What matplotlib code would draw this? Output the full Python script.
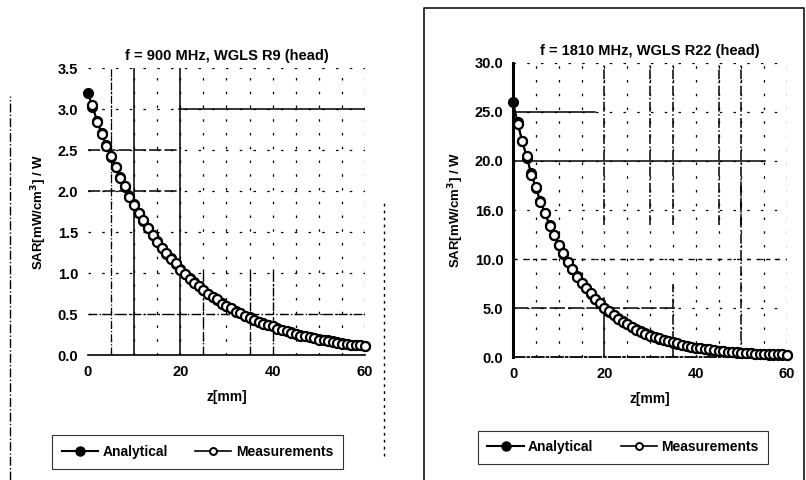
import matplotlib
matplotlib.use("Agg")
import matplotlib.pyplot as plt
from matplotlib.lines import Line2D

plt.rcParams['font.family'] = ['Liberation Sans', 'DejaVu Sans']
plt.rcParams['font.weight'] = 'bold'

# ---------------- data ----------------
z_ana = list(range(0, 61))
z_meas = list(range(1, 61))

sar900_ana = [3.20, 3.03, 2.86, 2.71, 2.56, 2.42, 2.29, 2.17, 2.05, 1.94,
              1.84, 1.74, 1.64, 1.55, 1.47, 1.39, 1.31, 1.24, 1.18, 1.11,
              1.05, 0.99, 0.94, 0.89, 0.84, 0.80, 0.75, 0.71, 0.67, 0.64,
              0.60, 0.57, 0.54, 0.51, 0.48, 0.46, 0.43, 0.41, 0.39, 0.37,
              0.35, 0.33, 0.31, 0.29, 0.28, 0.26, 0.25, 0.23, 0.22, 0.21,
              0.20, 0.19, 0.18, 0.17, 0.16, 0.15, 0.14, 0.13, 0.13, 0.12,
              0.11]
sar900_meas = [3.05, 2.84, 2.70, 2.55, 2.43, 2.30, 2.16, 2.06, 1.93,
               1.83, 1.73, 1.65, 1.55, 1.46, 1.38, 1.31, 1.25, 1.17, 1.12,
               1.04, 0.99, 0.93, 0.88, 0.84, 0.79, 0.75, 0.71, 0.68, 0.63,
               0.60, 0.57, 0.53, 0.51, 0.48, 0.45, 0.43, 0.41, 0.38, 0.37,
               0.35, 0.32, 0.31, 0.29, 0.27, 0.26, 0.24, 0.23, 0.22, 0.21,
               0.19, 0.18, 0.17, 0.16, 0.15, 0.14, 0.14, 0.13, 0.12, 0.12,
               0.11]

sar1810_ana = [26.0, 23.95, 22.07, 20.33, 18.73, 17.26, 15.90, 14.65, 13.50, 12.43,
               11.46, 10.55, 9.72, 8.96, 8.25, 7.60, 7.01, 6.45, 5.95, 5.48,
               5.05, 4.65, 4.28, 3.95, 3.64, 3.35, 3.09, 2.84, 2.62, 2.41,
               2.22, 2.05, 1.89, 1.74, 1.60, 1.48, 1.36, 1.25, 1.15, 1.06,
               0.98, 0.90, 0.83, 0.77, 0.71, 0.65, 0.60, 0.55, 0.51, 0.47,
               0.43, 0.40, 0.37, 0.34, 0.31, 0.29, 0.26, 0.24, 0.22, 0.21,
               0.19]
sar1810_meas = [23.8, 22.0, 20.5, 18.6, 17.3, 15.8, 14.7, 13.4, 12.5,
                11.4, 10.6, 9.7, 9.0, 8.2, 7.6, 7.0, 6.5, 5.9, 5.5,
                5.0, 4.7, 4.3, 3.9, 3.6, 3.4, 3.1, 2.8, 2.6, 2.4,
                2.2, 2.1, 1.9, 1.7, 1.6, 1.5, 1.4, 1.25, 1.15, 1.06,
                0.98, 0.91, 0.84, 0.78, 0.72, 0.66, 0.61, 0.56, 0.52, 0.48,
                0.45, 0.42, 0.39, 0.36, 0.34, 0.32, 0.30, 0.29, 0.28, 0.27,
                0.26]

titles = ["f = 900 MHz, WGLS R9 (head)", "f = 1810 MHz, WGLS R22 (head)"]
ylims = [(0, 3.5), (0, 30)]
yticks = [[0.0, 0.5, 1.0, 1.5, 2.0, 2.5, 3.0, 3.5],
          [0.0, 5.0, 10.0, 15.0, 20.0, 25.0, 30.0]]
ytick_labels = [["0.0", "0.5", "1.0", "1.5", "2.0", "2.5", "3.0", "3.5"],
                ["0.0", "5.0", "10.0", "16.0", "20.0", "25.0", "30.0"]]
xticks = [0, 20, 40, 60]
ylabel = "SAR[mW/cm$^3$] / W"
xlabel = "z[mm]"
legend_labels = ["Analytical", "Measurements"]

# ---------------- figure ----------------
fig = plt.figure(figsize=(8.06, 4.80), dpi=100)
fig.patch.set_facecolor('white')

ax1 = fig.add_axes([0.109, 0.260, 0.344, 0.598])
ax2 = fig.add_axes([0.6365, 0.256, 0.340, 0.613])

series = [(ax1, sar900_ana, sar900_meas), (ax2, sar1810_ana, sar1810_meas)]

for i, (ax, ana, meas) in enumerate(series):
    ax.set_xlim(0, 60)
    ax.set_ylim(*ylims[i])
    for yv in yticks[i][1:]:
        ax.axhline(yv, color='black', lw=0.9, ls=(0, (2, 9)), zorder=0)
    for xv in range(5, 61, 5):
        ax.axvline(xv, color='black', lw=0.9, ls=(0, (2, 9)), zorder=0)
    ax.plot(z_ana, ana, color='black', lw=1.5, marker='o', ms=7,
            mfc='black', mec='black', zorder=3, clip_on=False)
    ax.plot(z_meas, meas, color='black', lw=1.2, marker='o', ms=6.5,
            mfc='white', mec='black', mew=1.6, zorder=4, clip_on=False)
    ax.set_title(titles[i], fontsize=10.5, fontweight='bold', pad=6)
    ax.set_xticks(xticks)
    ax.set_yticks(yticks[i])
    ax.set_yticklabels(ytick_labels[i])
    ax.tick_params(labelsize=10.5, length=0, pad=7)
    for lab in ax.get_xticklabels() + ax.get_yticklabels():
        lab.set_fontweight('bold')
    ax.set_xlabel(xlabel, fontsize=10, fontweight='bold', labelpad=8)
    ax.set_ylabel(ylabel, fontsize=9.5, fontweight='bold', labelpad=6)
    for s in ['top', 'right']:
        ax.spines[s].set_visible(False)

# panel-specific line artefacts
ax1.spines['left'].set_visible(False)
ax1.spines['bottom'].set_linewidth(1.2)
ax1.axvline(10, color='black', lw=1.1, zorder=1)
ax1.axvline(20, color='black', lw=1.1, zorder=1)
ax1.axvline(5, color='black', lw=0.9, ls='-.', zorder=1)
ax1.axhline(3.0, xmin=0.33, xmax=1.0, color='black', lw=1.1, zorder=1)
ax1.axhline(2.5, xmin=0.0, xmax=0.33, color='black', lw=1.1, ls=(0, (8, 2)), zorder=1)
ax1.axhline(2.0, xmin=0.0, xmax=0.33, color='black', lw=1.1, ls=(0, (8, 2)), zorder=1)
ax1.axhline(0.5, color='black', lw=1.0, ls='-.', zorder=1)
for xv in [25, 35, 40]:
    ax1.axvline(xv, ymin=0, ymax=0.3, color='black', lw=1.0, ls='-.', zorder=1)

ax2.spines['left'].set_linewidth(2.2)
ax2.spines['bottom'].set_linestyle('-.')
ax2.spines['bottom'].set_linewidth(1.3)
ax2.axhline(20, xmin=0, xmax=0.92, color='black', lw=1.1, zorder=1)
ax2.axhline(25, xmin=0, xmax=0.3, color='black', lw=1.1, zorder=1)
ax2.axhline(5, xmin=0, xmax=0.6, color='black', lw=1.1, ls=(0, (10, 2)), zorder=1)
ax2.axhline(10, color='black', lw=1.0, ls=(0, (3, 4)), zorder=1)
for xv in [20, 30, 35, 45, 50]:
    ax2.axvline(xv, ymin=0.45, ymax=1.0, color='black', lw=1.1, ls='-.', zorder=1)
ax2.axvline(20, ymin=0, ymax=0.2, color='black', lw=1.1, zorder=1)
ax2.axvline(35, ymin=0, ymax=0.25, color='black', lw=1.1, ls='-.', zorder=1)
ax2.axvline(50, ymin=0, ymax=0.6, color='black', lw=1.1, ls='-.', zorder=1)

# legends
handles = [Line2D([], [], color='black', lw=1.5, marker='o', ms=6.5, mfc='black', mec='black'),
           Line2D([], [], color='black', lw=1.2, marker='o', ms=5, mfc='white', mec='black', mew=1.4)]
for anchor in [(0.245, 0.058), (0.773, 0.068)]:
    leg = fig.legend(handles, legend_labels, loc='center', bbox_to_anchor=anchor,
                     ncol=2, fontsize=10, frameon=True, fancybox=False,
                     handlelength=2.6, columnspacing=2.0, borderpad=0.7,
                     handletextpad=0.3)
    leg.get_frame().set_edgecolor('black')
    leg.get_frame().set_linewidth(0.8)
    for t in leg.get_texts():
        t.set_fontweight('bold')

# outer frame artefacts
fig.add_artist(Line2D([0.012, 0.012], [0.0, 0.80], transform=fig.transFigure,
                      color='black', lw=1.0, ls='-.'))
fig.add_artist(Line2D([0.477, 0.477], [0.05, 0.58], transform=fig.transFigure,
                      color='black', lw=1.0, ls=(0, (2, 3))))
fig.add_artist(Line2D([0.526, 0.526, 0.9975, 0.9975], [0.0, 0.983, 0.983, 0.0],
                      transform=fig.transFigure, color='black', lw=1.1))

fig.savefig("out.png", dpi=100, facecolor='white')
